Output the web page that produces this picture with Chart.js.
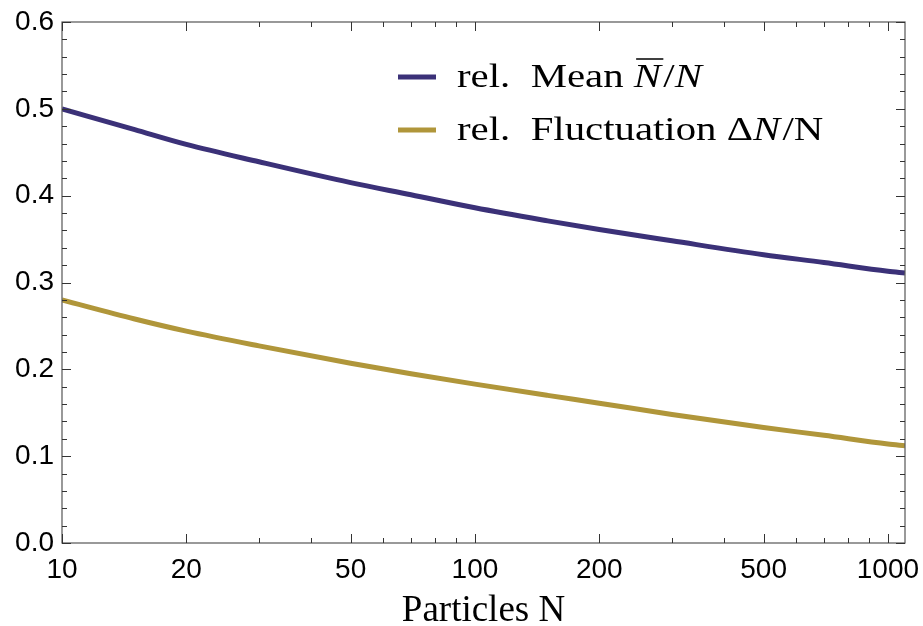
<!DOCTYPE html>
<html>
<head>
<meta charset="utf-8">
<script src="https://cdn.jsdelivr.net/npm/chart.js@4"></script>
<style>
  html, body { margin: 0; padding: 0; background: #fff; }
  #wrap { width: 923px; height: 626px; }
</style>
</head>
<body>
<div id="wrap"><canvas id="relChart" width="923" height="626"></canvas></div>
<script>
// values
const particles = [10, 15, 20, 30, 50, 70, 100, 150, 200, 300, 500, 700, 1000, 1100]
const relMean = [0.500, 0.476, 0.459, 0.439, 0.415, 0.401, 0.386, 0.371, 0.361, 0.348, 0.332, 0.323, 0.313, 0.311]
const relFluct = [0.280, 0.258, 0.244, 0.227, 0.207, 0.195, 0.183, 0.170, 0.161, 0.148, 0.133, 0.124, 0.114, 0.112]
const xTickLabels = [10, 20, 50, 100, 200, 500, 1000]
const xMinorTicks = [30, 40, 60, 70, 80, 90, 300, 400, 600, 700, 800, 900]
const yTickLabels = [0, 0.1, 0.2, 0.3, 0.4, 0.5, 0.6]

const meanColor = '#3b3178'
const fluctColor = '#b0963a'
const tickFont = "'Liberation Sans', Arial, sans-serif"
const serif = "'Liberation Serif', 'DejaVu Serif', serif"

const framePlugin = {
  id: 'frame',
  afterDraw(chart) {
    const { ctx, chartArea: a, scales: { x, y } } = chart
    ctx.save()
    ctx.strokeStyle = '#555'
    ctx.lineWidth = 1.2
    ctx.strokeRect(a.left, a.top, a.right - a.left, a.bottom - a.top)

    const tick = (x1, y1, x2, y2) => {
      ctx.beginPath(); ctx.moveTo(x1, y1); ctx.lineTo(x2, y2); ctx.stroke()
    }
    ctx.strokeStyle = '#333'
    ctx.lineWidth = 1
    xTickLabels.forEach(v => {
      const px = Math.round(x.getPixelForValue(v)) + 0.5
      tick(px, a.bottom, px, a.bottom - 9)
      tick(px, a.top, px, a.top + 9)
    })
    xMinorTicks.forEach(v => {
      const px = Math.round(x.getPixelForValue(v)) + 0.5
      tick(px, a.bottom, px, a.bottom - 5)
      tick(px, a.top, px, a.top + 5)
    })
    for (let i = 0; i <= 30; i++) {
      const py = Math.round(y.getPixelForValue(i * 0.02)) + 0.5
      const len = i % 5 === 0 ? 9 : 5
      tick(a.left, py, a.left + len, py)
      tick(a.right, py, a.right - len, py)
    }

    // legend, text stretched a little to look like the original serif
    const items = [
      { color: meanColor, parts: [['rel.  Mean ', ''], ['N', 'italic', true], ['/', ''], ['N', 'italic']] },
      { color: fluctColor, parts: [['rel.  Fluctuation ', ''], ['\u0394', ''], ['N', 'italic'], ['/N', '']] }
    ]
    const lx = 398, size = 34, stretch = 1.2
    items.forEach((it, i) => {
      const ly = 77 + i * 53
      ctx.strokeStyle = it.color
      ctx.lineWidth = 5
      tick(lx, ly, lx + 38, ly)
      ctx.save()
      ctx.translate(lx + 59, 0)
      ctx.scale(stretch, 1)
      let tx = 0
      ctx.fillStyle = '#000'
      ctx.textBaseline = 'middle'
      it.parts.forEach(([txt, style, bar]) => {
        ctx.font = `${style} ${size}px ${serif}`
        ctx.fillText(txt, tx, ly + 1)
        const w = ctx.measureText(txt).width
        if (bar) {
          ctx.lineWidth = 1.5
          ctx.strokeStyle = '#000'
          tick(tx + 2, ly - 18, tx + w + 2, ly - 18)
        }
        tx += w + (style === 'italic' ? 2 : 0)
      })
      ctx.restore()
    })
    ctx.restore()
  }
}

const ctx = document.getElementById('relChart')
const myChart = new Chart(ctx, {
  type: 'line',
  data: {
    datasets: [
      {
        label: 'rel. Mean N/N',
        data: particles.map((n, i) => ({ x: n, y: relMean[i] })),
        borderColor: meanColor,
        backgroundColor: meanColor,
        borderWidth: 5,
        pointRadius: 0,
        cubicInterpolationMode: 'monotone'
      },
      {
        label: 'rel. Fluctuation \u0394N/N',
        data: particles.map((n, i) => ({ x: n, y: relFluct[i] })),
        borderColor: fluctColor,
        backgroundColor: fluctColor,
        borderWidth: 5,
        pointRadius: 0,
        cubicInterpolationMode: 'monotone'
      }
    ]
  },
  options: {
    responsive: false,
    animation: false,
    layout: { padding: { top: 22, right: 18, left: 0, bottom: 0 } },
    plugins: {
      legend: { display: false },
      tooltip: { enabled: false }
    },
    scales: {
      x: {
        type: 'logarithmic',
        min: 10,
        max: 1100,
        grid: { display: false, drawTicks: false },
        border: { display: false },
        afterBuildTicks: s => { s.ticks = xTickLabels.map(v => ({ value: v })) },
        afterFit: s => { s.height = 83; s.paddingLeft = 0; s.paddingRight = 0 },
        ticks: {
          autoSkip: false,
          maxRotation: 0,
          padding: 10,
          color: '#000',
          font: { family: tickFont, size: 28 },
          callback: v => String(v)
        },
        title: {
          display: true,
          text: 'Particles N',
          color: '#000',
          font: { family: serif, size: 37, lineHeight: 0.8 },
          padding: { top: 0, bottom: 0 }
        }
      },
      y: {
        min: 0,
        max: 0.6,
        grid: { display: false, drawTicks: false },
        border: { display: false },
        afterBuildTicks: s => { s.ticks = yTickLabels.map(v => ({ value: v })) },
        afterFit: s => { s.width = 62; s.paddingTop = 0; s.paddingBottom = 0 },
        ticks: {
          padding: 8,
          color: '#000',
          font: { family: tickFont, size: 28 },
          callback: v => v.toFixed(1)
        }
      }
    }
  },
  plugins: [framePlugin]
})
</script>
</body>
</html>
